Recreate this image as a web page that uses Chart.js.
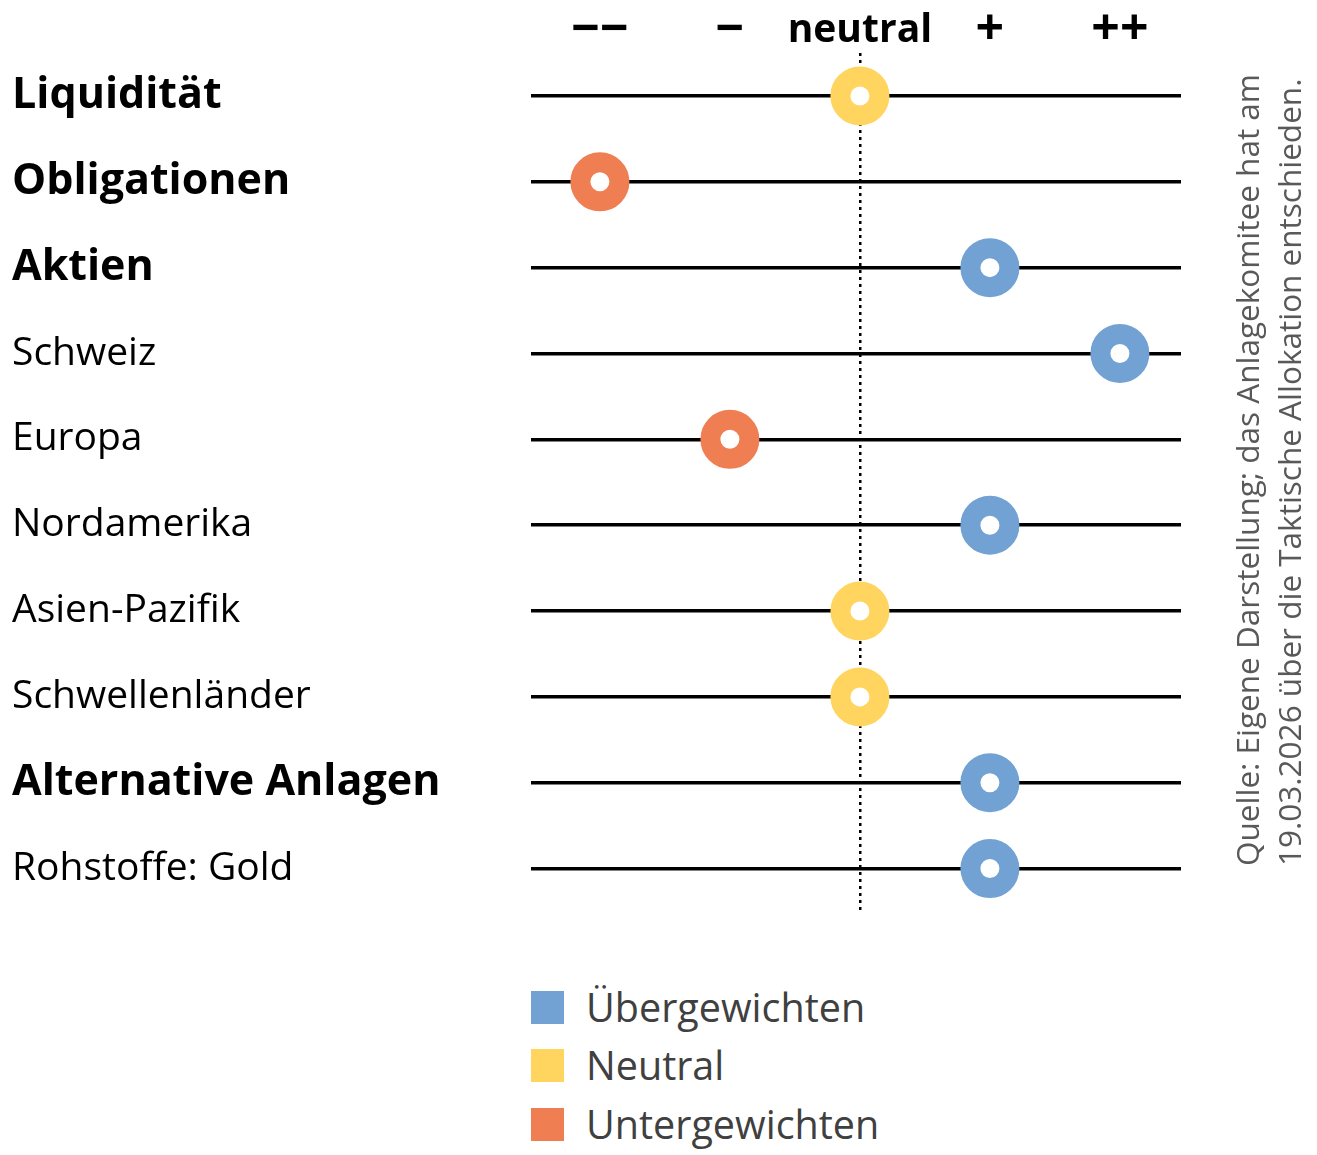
<!DOCTYPE html>
<html lang="de">
<head>
<meta charset="utf-8">
<title>Taktische Allokation</title>
<script src="https://cdn.jsdelivr.net/npm/chart.js@4.4.1/dist/chart.umd.min.js"></script>
<style>
  html, body { margin: 0; padding: 0; background: #fff; }
  body { width: 1317px; height: 1155px; position: relative; overflow: hidden; font-family: "Open Sans", "Noto Sans", sans-serif; }
  #wrap { position: absolute; left: 0; top: 0; width: 1317px; height: 951px; }
  #legend { position: absolute; left: 531px; top: 978px; }
  .leg-row { display: flex; align-items: center; height: 58.5px; }
  .leg-box { width: 33px; height: 33px; margin-right: 22px; }
  .leg-text { font-size: 39.5px; color: #404040; line-height: 1; }
  #source {
    position: absolute; left: 1226px; top: 866px; width: 820px;
    transform-origin: 0 0; transform: rotate(-90deg);
    font-size: 31.5px; line-height: 42px; color: #595959; white-space: nowrap;
  }
</style>
</head>
<body>
<div id="wrap"><canvas id="chart"></canvas></div>
<div id="legend"></div>
<div id="source"></div>

<script>
"use strict";

// Kategorien (Zeilen) und Positionierung (-2 = --, 0 = neutral, +2 = ++)
const categories = [
  "Liquidität", "Obligationen", "Aktien", "Schweiz", "Europa",
  "Nordamerika", "Asien-Pazifik", "Schwellenländer", "Alternative Anlagen", "Rohstoffe: Gold",
];
const positions = [0, -2, 1, 2, -1, 1, 0, 0, 1, 1];
const boldRows = ["Liquidität", "Obligationen", "Aktien", "Alternative Anlagen"];

const tickValues = [-2, -1, 0, 1, 2];
const tickLabels = ["−−", "−", "neutral", "+", "++"];

const legendLabels = ["Übergewichten", "Neutral", "Untergewichten"];
const legendColors = ["#72A1D3", "#FFD55F", "#EF7E53"];

const sourceLines = [
  "Quelle: Eigene Darstellung; das Anlagekomitee hat am",
  "19.03.2026 über die Taktische Allokation entschieden.",
];

const FONT = "'Open Sans', 'Noto Sans', sans-serif";

function colorFor(v) {
  if (v > 0) return legendColors[0];
  if (v < 0) return legendColors[2];
  return legendColors[1];
}

const points = categories.map((c, i) => ({ x: positions[i], y: c }));

new Chart(document.getElementById("chart"), {
  type: "scatter",
  data: {
    datasets: [{
      data: points,
      pointRadius: 19.5,
      pointHoverRadius: 19.5,
      pointBorderWidth: 20,
      pointHoverBorderWidth: 20,
      pointBackgroundColor: "#ffffff",
      pointBorderColor: positions.map(colorFor),
      pointHoverBorderColor: positions.map(colorFor),
    }],
  },
  options: {
    responsive: true,
    maintainAspectRatio: false,
    animation: false,
    events: [],
    layout: { padding: { left: 12, right: 136, top: 0, bottom: 20 } },
    plugins: { legend: { display: false }, tooltip: { enabled: false } },
    scales: {
      x: {
        type: "linear",
        position: "top",
        min: -2.53,
        max: 2.47,
        afterBuildTicks: (scale) => { scale.ticks = tickValues.map((v) => ({ value: v })); },
        afterFit: (scale) => { scale.height = 53; },
        ticks: {
          padding: -1,
          color: "#000",
          font: (ctx) => ({
            family: FONT,
            size: ctx.tick && ctx.tick.value === 0 ? 39 : 50,
            weight: "bold",
            lineHeight: "47px",
          }),
          callback: (v) => tickLabels[tickValues.indexOf(v)],
        },
        grid: {
          drawTicks: false,
          color: (ctx) => (ctx.tick && ctx.tick.value === 0 ? "#000" : "rgba(0,0,0,0)"),
          lineWidth: 2.5,
        },
        border: { display: false, dash: [3, 4] },
      },
      y: {
        type: "category",
        labels: categories,
        offset: true,
        afterFit: (scale) => { scale.width = 519; },
        ticks: {
          crossAlign: "far",
          padding: 0,
          color: "#000",
          font: (ctx) => {
            const bold = boldRows.includes(categories[ctx.index]);
            return { family: FONT, size: bold ? 43 : 39, weight: bold ? "bold" : "normal" };
          },
        },
        grid: { offset: false, drawTicks: false, color: "#000", lineWidth: 3.5 },
        border: { display: false },
      },
    },
  },
});

// Legende
const legend = document.getElementById("legend");
legend.innerHTML = legendLabels
  .map((l, i) => `<div class="leg-row"><div class="leg-box" style="background:${legendColors[i]}"></div><div class="leg-text">${l}</div></div>`)
  .join("");

// Quelle
document.getElementById("source").innerHTML = sourceLines.map((s) => `<div>${s}</div>`).join("");
</script>
</body>
</html>
